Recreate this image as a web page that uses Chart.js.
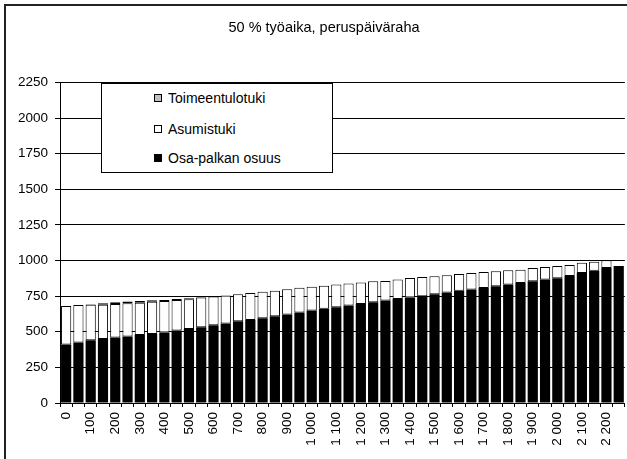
<!DOCTYPE html>
<html>
<head>
<meta charset="utf-8">
<script src="https://cdn.jsdelivr.net/npm/chart.js@4"></script>
<style>
  body { margin: 0; overflow: hidden; background: #fff; font-family: "Liberation Sans", Arial, sans-serif; }
  #wrap { position: relative; width: 627px; height: 459px; overflow: hidden; }
  #frame { position: absolute; left: 4px; top: 4px; width: 700px; height: 500px; border-left: 2px solid #222; border-top: 2px solid #222; pointer-events: none; }
  #legendBox { position: absolute; left: 101px; top: 83px; width: 230px; height: 88px; border: 1px solid #000; background: #fff; }
  .row { position: absolute; left: 52px; height: 16px; display: flex; align-items: center; font-size: 14px; color: #000; white-space: nowrap; }
  .sq { width: 6px; height: 6px; border: 1px solid #000; margin-right: 6px; }
</style>
</head>
<body>
<div id="wrap">
  <canvas id="myChart" width="640" height="459"></canvas>
  <div id="frame"></div>
  <div id="legendBox"></div>
</div>
<script>
const categories = [0, 50, 100, 150, 200, 250, 300, 350, 400, 450, 500, 550, 600, 650, 700, 750,
  800, 850, 900, 950, 1000, 1050, 1100, 1150, 1200, 1250, 1300, 1350, 1400, 1450, 1500, 1550,
  1600, 1650, 1700, 1750, 1800, 1850, 1900, 1950, 2000, 2050, 2100, 2150, 2200, 2250]

const osaPalkka = [411, 425, 441, 450, 460, 467, 478, 485, 495, 509, 520, 532, 546, 558, 573, 583,
  595, 609, 621, 635, 649, 661, 672, 684, 695, 707, 719, 730, 740, 749, 763, 775,
  787, 796, 807, 819, 831, 842, 854, 866, 875, 892, 912, 929, 947, 961]

const asumistuki = [270, 263, 249, 240, 235, 233, 226, 226, 220, 213, 209, 208, 201, 196, 190, 189,
  185, 178, 177, 173, 166, 161, 159, 154, 150, 147, 138, 136, 137, 135, 127, 121,
  119, 117, 113, 105, 100, 94, 94, 89, 86, 76, 73, 63, 54, 0]

const toimeentulotuki = [0, 0, 3, 10, 12, 12, 12, 10, 8, 8, 6, 4, 0, 0, 0, 0,
  0, 0, 0, 0, 0, 0, 0, 0, 0, 0, 0, 0, 0, 0, 0, 0,
  0, 0, 0, 0, 0, 0, 0, 0, 0, 0, 0, 0, 0, 0]

const yTicks = [0, 250, 500, 750, 1000, 1250, 1500, 1750, 2000, 2250]

const fontName = "'Liberation Sans', Arial, sans-serif"

const fmt = v => v >= 1000 ? `${Math.floor(v / 1000)} ${String(v % 1000).padStart(3, '0')}` : String(v)

const datasets = [
  { label: 'Osa-palkan osuus', data: osaPalkka, backgroundColor: '#000000', borderWidth: 0 },
  { label: 'Asumistuki', data: asumistuki, backgroundColor: '#ffffff',
    borderWidth: asumistuki.map(v => v ? 1 : 0) },
  { label: 'Toimeentulotuki', data: toimeentulotuki, backgroundColor: '#c0c0c0',
    borderWidth: toimeentulotuki.map(v => v ? 1 : 0) },
].map(d => ({
  ...d,
  borderColor: '#000000',
  borderSkipped: false,
  barPercentage: 0.83,
  categoryPercentage: 1,
}))

const config = {
  type: 'bar',
  data: { labels: categories, datasets },
  options: {
    responsive: false,
    animation: false,
    layout: { padding: { left: 15, right: 7, top: 5, bottom: 0 } },
    scales: {
      x: {
        stacked: true,
        offset: true,
        grid: { drawOnChartArea: false, color: '#000', tickLength: 4, offset: true },
        border: { color: '#000', width: 1 },
        ticks: {
          autoSkip: false,
          maxRotation: 90,
          minRotation: 90,
          padding: 5,
          color: '#000',
          font: { family: fontName, size: 13.5 },
          callback: (val, i) => categories[i] % 100 === 0 ? fmt(categories[i]) : '',
        },
        afterFit: s => { s.height = 56 },
      },
      y: {
        stacked: true,
        min: 0,
        max: 2250,
        afterBuildTicks: s => { s.ticks = yTicks.map(v => ({ value: v })) },
        grid: { color: '#000', lineWidth: 1, tickLength: 5 },
        border: { color: '#000', width: 1 },
        ticks: {
          padding: 7,
          color: '#000',
          font: { family: fontName, size: 13.5 },
          callback: v => String(v),
        },
        afterFit: s => { s.width = 45 },
      },
    },
    plugins: {
      legend: { display: false },
      tooltip: { enabled: false },
      title: {
        display: true,
        text: '50 % työaika, peruspäiväraha',
        color: '#000',
        font: { family: fontName, size: 14.5, weight: 'normal' },
        padding: { top: 14, bottom: 46 },
      },
    },
  },
}

const chart1 = new Chart(document.getElementById('myChart'), config)

// legend box inside the plot, top entry = top of the stack
const box = document.getElementById('legendBox')
const rowTops = [6, 37, 66]
datasets.slice().reverse().forEach((d, i) => {
  const row = document.createElement('div')
  row.className = 'row'
  row.style.top = rowTops[i] + 'px'
  const sq = document.createElement('span')
  sq.className = 'sq'
  sq.style.background = d.backgroundColor
  row.appendChild(sq)
  row.appendChild(document.createTextNode(d.label))
  box.appendChild(row)
})
</script>
</body>
</html>
